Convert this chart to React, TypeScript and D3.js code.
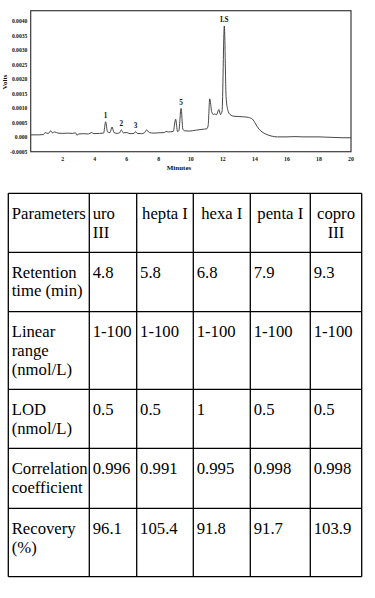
import React from "react";
import * as d3 from "d3";

// ---- Chromatogram data (minutes, volts) ----
const times: number[] = [
  0.0, 0.5, 0.8, 0.9, 1.0, 1.1, 1.25, 1.35, 1.5, 1.7, 2.0, 2.3, 2.6, 2.8, 2.88, 3.0, 3.3, 3.6, 3.8, 3.95,
  4.3, 4.55, 4.68, 4.8, 4.95, 5.08, 5.2, 5.4, 5.55, 5.66, 5.78, 6.0, 6.2, 6.45, 6.55, 6.65, 6.9, 7.1, 7.24, 7.4,
  7.7, 8.0, 8.35, 8.45, 8.6, 8.9, 9.05, 9.17, 9.25, 9.39, 9.5, 9.6, 9.9, 10.3, 10.7, 11.0, 11.08, 11.18, 11.3, 11.4,
  11.5, 11.6, 11.75, 11.85, 11.95, 12.09, 12.2, 12.3, 12.45, 12.7, 13.0, 13.3, 13.6, 13.85, 14.05, 14.25, 14.5, 14.8, 15.1, 15.4,
  16.0, 16.5, 17.0, 17.5, 18.0, 18.5, 19.0, 19.5, 20.0,
];
const volts: number[] = [
  0.00008, 0.00008, 0.00009, 0.00016, 0.00014, 0.00013, 0.00022, 0.00015, 0.00018, 0.00014, 0.00013, 0.00014, 0.00013, 0.00015, 0.00007, 0.00011, 0.00012, 0.00011, 0.00016, 0.00012,
  0.00013, 0.00014, 0.00053, 0.00018, 0.00016, 0.00035, 0.00016, 0.00013, 0.00015, 0.00025, 0.00015, 0.00016, 0.00012, 0.00013, 0.00019, 0.00013, 0.00012, 0.00015, 0.00025, 0.00016,
  0.00014, 0.00015, 0.00016, 0.0002, 0.00018, 0.0002, 0.00062, 0.00019, 0.00022, 0.00099, 0.00028, 0.00022, 0.00021, 0.00024, 0.00027, 0.00029, 0.0004, 0.00132, 0.00088, 0.00078,
  0.0008, 0.00077, 0.00095, 0.00078, 0.0009, 0.00383, 0.0014, 0.00095, 0.00078, 0.00072, 0.00071, 0.0007, 0.00068, 0.00062, 0.00045, 0.00028, 0.00016, 0.00008, 0.00003, 0.00001,
  0.00001, 0.00002, 0.00001, 0.00001, 0.00001, 0.0, -0.00001, -0.00002, -0.00002,
];

const peakLabels: string[] = ["1", "2", "3", "5", "I.S"];
const peakTimes: number[] = [4.68, 5.66, 6.55, 9.39, 12.09];
const peakVolts: number[] = [0.00053, 0.00025, 0.00019, 0.00099, 0.00383];

const xTicks: number[] = [2, 4, 6, 8, 10, 12, 14, 16, 18, 20];
const yTicks: number[] = [0.004, 0.0035, 0.003, 0.0025, 0.002, 0.0015, 0.001, 0.0005, 0, -0.0005];
const yTickLabels: string[] = ["0.0040", "0.0035", "0.0030", "0.0025", "0.0020", "0.0015", "0.0010", "0.0005", "0.000", "-0.0005"];

// ---- Table data ----
const headerLabel: string[] = ["Parameters"];
const compounds: string[][] = [["uro", "III"], ["hepta I"], ["hexa I"], ["penta I"], ["copro", "III"]];
const rowLabels: string[][] = [
  ["Retention", "time (min)"],
  ["Linear", "range", "(nmol/L)"],
  ["LOD", "(nmol/L)"],
  ["Correlation", "coefficient"],
  ["Recovery", "(%)"],
];
const retention: string[] = ["4.8", "5.8", "6.8", "7.9", "9.3"];
const linearRange: string[] = ["1-100", "1-100", "1-100", "1-100", "1-100"];
const lod: string[] = ["0.5", "0.5", "1", "0.5", "0.5"];
const correlation: string[] = ["0.996", "0.991", "0.995", "0.998", "0.998"];
const recovery: string[] = ["96.1", "105.4", "91.8", "91.7", "103.9"];

const SERIF = "'Liberation Serif', 'Times New Roman', serif";

function Chromatogram() {
  const left = 30.7, right = 351, top = 10.7, bottom = 151.7;
  const x = d3.scaleLinear().domain([0, 20]).range([left, right]);
  const y = d3.scaleLinear().domain([-0.0005, 0.004355]).range([bottom, top]);
  const pts: [number, number][] = times.map((t, i) => [t, volts[i]]);
  const line = d3
    .line<[number, number]>()
    .x((d) => x(d[0]))
    .y((d) => y(d[1]))
    .curve(d3.curveMonotoneX);
  return (
    <g>
      <rect x={left} y={top} width={right - left} height={bottom - top} fill="none" stroke="#3a3a3a" strokeWidth={1.2} />
      <path d={line(pts) || ""} fill="none" stroke="#333" strokeWidth={0.9} />
      {yTicks.map((v, i) => (
        <text key={"y" + i} x={left - 3.4} y={y(v) + 2} textAnchor="end" fontFamily={SERIF} fontWeight="bold" fontSize={5.6} fill="#111">
          {yTickLabels[i]}
        </text>
      ))}
      {xTicks.map((v, i) => (
        <text key={"x" + i} x={x(v)} y={161} textAnchor="middle" fontFamily={SERIF} fontWeight="bold" fontSize={5.8} fill="#111">
          {v}
        </text>
      ))}
      <text x={179} y={169.5} textAnchor="middle" fontFamily={SERIF} fontWeight="bold" fontSize={7} fill="#111">
        Minutes
      </text>
      <text transform={`translate(7,82) rotate(-90)`} textAnchor="middle" fontFamily={SERIF} fontWeight="bold" fontSize={7} fill="#111">
        Volts
      </text>
      {peakLabels.map((lab, i) => (
        <text key={"p" + i} x={x(peakTimes[i])} y={y(peakVolts[i]) - 3.5} textAnchor="middle" fontFamily={SERIF} fontWeight="bold" fontSize={7.2} fill="#111">
          {lab}
        </text>
      ))}
    </g>
  );
}

function DataTable() {
  const colEdges = [8.3, 89.3, 136.7, 193.3, 250.3, 310.3, 361.7];
  const rowEdges = [193.3, 252.3, 311.7, 389.3, 448.3, 508.3, 576.7];
  const firstOffsets = [26, 25.3, 25.7, 25.7, 26, 25.7];
  const lh = 18.6;
  const fs = 16.7;
  const values: string[][] = [retention, linearRange, lod, correlation, recovery];
  const pad = 3.4;
  return (
    <g fontFamily={SERIF} fontSize={fs} fill="#000">
      {rowEdges.map((yy, i) => (
        <line key={"h" + i} x1={colEdges[0]} x2={colEdges[colEdges.length - 1]} y1={yy} y2={yy} stroke="#000" strokeWidth={1.3} />
      ))}
      {colEdges.map((xx, i) => (
        <line key={"v" + i} x1={xx} x2={xx} y1={rowEdges[0]} y2={rowEdges[rowEdges.length - 1]} stroke="#000" strokeWidth={1.3} />
      ))}
      {/* header */}
      <text x={colEdges[0] + pad} y={rowEdges[0] + firstOffsets[0]}>{headerLabel[0]}</text>
      {compounds.map((lines, c) =>
        lines.map((ln, k) => {
          const leftAlign = c === 0;
          const cx = leftAlign ? colEdges[c + 1] + pad : (colEdges[c + 1] + colEdges[c + 2]) / 2;
          return (
            <text key={"c" + c + "_" + k} x={cx} y={rowEdges[0] + firstOffsets[0] + k * lh} textAnchor={leftAlign ? "start" : "middle"}>
              {ln}
            </text>
          );
        })
      )}
      {/* body */}
      {rowLabels.map((lines, r) => (
        <g key={"r" + r}>
          {lines.map((ln, k) => (
            <text key={k} x={colEdges[0] + pad} y={rowEdges[r + 1] + firstOffsets[r + 1] + k * lh}>
              {ln}
            </text>
          ))}
          {values[r].map((v, c) => (
            <text key={"v" + c} x={colEdges[c + 1] + pad} y={rowEdges[r + 1] + firstOffsets[r + 1]}>
              {v}
            </text>
          ))}
        </g>
      ))}
    </g>
  );
}

export default function App() {
  return (
    <svg width={375} height={598} style={{ position: "absolute", left: 0, top: 0, background: "#fff" }}>
      <rect x={0} y={0} width={375} height={598} fill="#fff" />
      <Chromatogram />
      <DataTable />
    </svg>
  );
}
